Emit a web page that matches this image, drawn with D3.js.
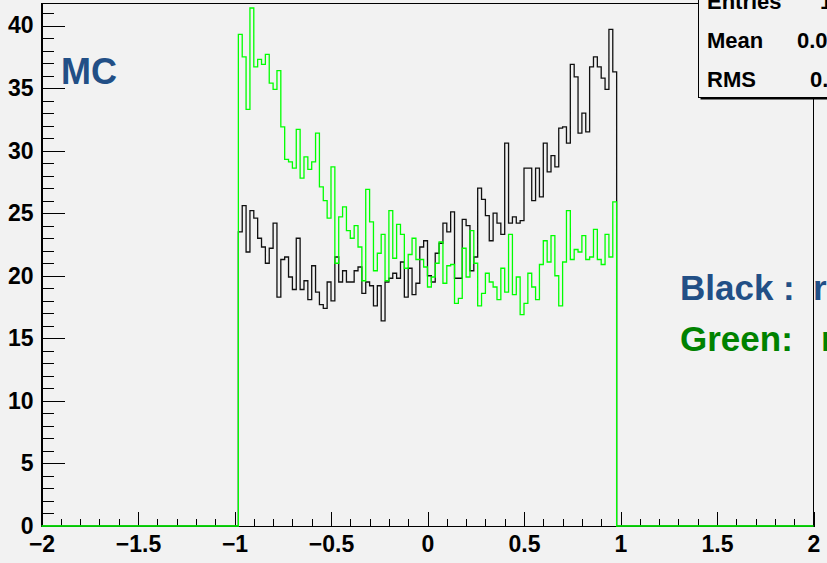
<!DOCTYPE html>
<html>
<head>
<meta charset="utf-8">
<script src="https://cdn.jsdelivr.net/npm/d3@7"></script>
<style>
  html, body { margin: 0; padding: 0; background: #f2f2f2; overflow: hidden; }
  svg { display: block; font-family: "Liberation Sans", Arial, Helvetica, sans-serif; font-weight: bold; }
</style>
</head>
<body>
<svg id="chart" width="827" height="563"></svg>
<script>
// Histogram binning: 98 bins of width 0.02 starting at -0.98
const binStart = -0.98;
const binWidth = 0.02;

// Black histogram contents, bin by bin
const blackCounts = [
  23.5, 25.6, 21.9, 25.2, 24.6, 23.0, 22.3, 21.0, 22.2, 24.2,
  18.3, 21.3, 21.5, 19.9, 18.9, 23.0, 18.9, 19.6, 18.1, 20.8,
  18.7, 17.7, 17.4, 19.5, 18.0, 21.5, 19.5, 20.4, 19.5, 19.5,
  20.4, 20.7, 18.6, 19.5, 19.2, 17.6, 19.2, 16.4, 19.5, 19.8,
  20.2, 19.8, 21.1, 18.3, 20.6, 18.5, 19.4, 22.3, 22.8, 20.0,
  19.5, 21.8, 22.6, 24.2, 23.5, 25.1, 19.8, 19.8, 24.5, 24.0,
  20.4, 21.5, 27.0, 26.1, 24.8, 22.8, 25.0, 24.2, 23.3, 30.6,
  24.2, 24.7, 24.2, 24.4, 28.6, 28.6, 26.0, 28.6, 26.3, 30.6,
  28.3, 29.6, 28.7, 31.8, 31.9, 30.6, 36.9, 35.9, 31.4, 33.0,
  31.5, 36.7, 37.5, 36.7, 35.8, 34.9, 39.7, 36.3
];

// Green histogram contents, bin by bin
const greenCounts = [
  39.3, 37.5, 33.3, 41.4, 36.7, 37.3, 36.9, 37.7, 35.4, 34.9,
  36.4, 31.9, 29.3, 29.1, 28.6, 31.7, 27.8, 29.5, 28.5, 29.1,
  31.4, 27.1, 26.0, 24.6, 28.7, 21.0, 24.7, 25.5, 23.6, 23.0,
  24.0, 22.3, 19.6, 26.9, 24.3, 20.4, 21.8, 23.3, 19.6, 25.2,
  21.4, 24.1, 23.3, 20.6, 21.7, 23.0, 21.3, 21.3, 20.7, 19.1,
  19.9, 21.0, 22.7, 19.4, 20.8, 20.9, 17.8, 18.2, 22.2, 19.9,
  23.6, 21.0, 17.6, 18.6, 20.2, 19.5, 19.1, 18.1, 20.6, 18.7,
  23.3, 18.5, 19.9, 16.9, 17.8, 20.2, 19.1, 18.1, 20.9, 22.8,
  21.1, 23.2, 20.0, 17.6, 21.1, 25.2, 21.3, 22.1, 21.9, 23.2,
  21.3, 21.5, 23.7, 21.3, 20.9, 23.3, 21.5, 25.9
];

// Axis ranges and tick values
const xRange = [-2, 2];
const yRange = [0, 41.8];
const xMajorTicks = [-2, -1.5, -1, -0.5, 0, 0.5, 1, 1.5, 2];
const yMajorTicks = [0, 5, 10, 15, 20, 25, 30, 35, 40];

// Statistics box rows
const statNames = ["Entries", "Mean", "RMS"];
const statValues = ["1", "0.0", "0."];

// Annotation texts
const mcLabel = "MC";
const legendLines = [
  { text: "Black : ", tail: "r", color: "#224f86" },
  { text: "Green:", tail: "r", color: "#008200" }
];

const svg = d3.select("#chart");
const W = 827, H = 563;
const frame = { left: 41.5, right: 813.5, top: 3, bottom: 526 };

svg.append("rect").attr("width", W).attr("height", H).attr("fill", "#f2f2f2");

const x = d3.scaleLinear().domain(xRange).range([frame.left, frame.right]);
const y = d3.scaleLinear().domain(yRange).range([frame.bottom, frame.top]);

// Frame box
svg.append("rect")
  .attr("x", frame.left).attr("y", frame.top)
  .attr("width", frame.right - frame.left).attr("height", frame.bottom - frame.top)
  .attr("fill", "none").attr("stroke", "#000").attr("stroke-width", 1)
  .attr("shape-rendering", "crispEdges");

// Minor ticks
const xMinor = d3.range(-20, 21).map(d => d / 10).filter(v => !xMajorTicks.some(m => Math.abs(m - v) < 1e-9));
const yMinor = d3.range(0, 42).filter(v => v % 5 !== 0);

const xMinorAxis = svg.append("g")
  .attr("transform", `translate(0,${frame.bottom})`)
  .call(d3.axisBottom(x).tickValues(xMinor).tickSize(-7).tickFormat(""));
const xMajorAxis = svg.append("g")
  .attr("transform", `translate(0,${frame.bottom})`)
  .call(d3.axisBottom(x).tickValues(xMajorTicks).tickSize(-14).tickPadding(10)
    .tickFormat(d => d3.format("")(d)));
const yMinorAxis = svg.append("g")
  .attr("transform", `translate(${frame.left},0)`)
  .call(d3.axisLeft(y).tickValues(yMinor).tickSize(-12).tickFormat(""));
const yMajorAxis = svg.append("g")
  .attr("transform", `translate(${frame.left},0)`)
  .call(d3.axisLeft(y).tickValues(yMajorTicks).tickSize(-23).tickPadding(8));

[xMinorAxis, xMajorAxis, yMinorAxis, yMajorAxis].forEach(g => {
  g.select(".domain").attr("stroke", "#000").attr("stroke-width", 1).attr("shape-rendering", "crispEdges");
  g.selectAll(".tick line").attr("stroke", "#000").attr("stroke-width", 1).attr("shape-rendering", "crispEdges");
  g.selectAll(".tick text")
    .attr("fill", "#000")
    .style("font-family", '"Liberation Sans", Arial, sans-serif')
    .style("font-weight", "bold")
    .style("font-size", "23px");
});

// Step outline of a histogram, running along zero outside the filled range
function histPoints(counts) {
  const pts = [[xRange[0], 0], [binStart, 0]];
  counts.forEach((c, i) => {
    const lo = binStart + i * binWidth;
    pts.push([lo, c], [lo + binWidth, c]);
  });
  const end = binStart + counts.length * binWidth;
  pts.push([end, 0], [xRange[1], 0]);
  return pts;
}

const line = d3.line().x(d => x(d[0])).y(d => y(d[1]));

svg.append("path")
  .attr("d", line(histPoints(blackCounts)))
  .attr("fill", "none").attr("stroke", "#111").attr("stroke-width", 1.3);

svg.append("path")
  .attr("d", line(histPoints(greenCounts)))
  .attr("fill", "none").attr("stroke", "#00ff00").attr("stroke-width", 1.3);

// Statistics box
const box = { x: 698.5, y: -20, w: 200, h: 117.5 };
svg.append("rect")
  .attr("x", box.x + 2).attr("y", box.y + 2).attr("width", box.w).attr("height", box.h)
  .attr("fill", "#000");
svg.append("rect")
  .attr("x", box.x).attr("y", box.y).attr("width", box.w).attr("height", box.h)
  .attr("fill", "#f2f2f2").attr("stroke", "#000").attr("stroke-width", 1);

const rowBase = [9, 48, 87];
const valueX = [820, 797, 810];
statNames.forEach((name, i) => {
  svg.append("text").attr("x", 707).attr("y", rowBase[i])
    .attr("font-size", 22).attr("fill", "#000").text(name);
  svg.append("text").attr("x", valueX[i]).attr("y", rowBase[i])
    .attr("font-size", 22).attr("fill", "#000").text(statValues[i]);
});

// Annotations
svg.append("text").attr("x", 61).attr("y", 84)
  .attr("font-size", 36).attr("fill", "#224f86").text(mcLabel);

const legendY = [300, 351];
const tailX = [813, 821];
legendLines.forEach((l, i) => {
  svg.append("text").attr("x", 680).attr("y", legendY[i])
    .attr("font-size", 35).attr("fill", l.color).text(l.text);
  svg.append("text").attr("x", tailX[i]).attr("y", legendY[i])
    .attr("font-size", 35).attr("fill", l.color).text(l.tail);
});
</script>
</body>
</html>
